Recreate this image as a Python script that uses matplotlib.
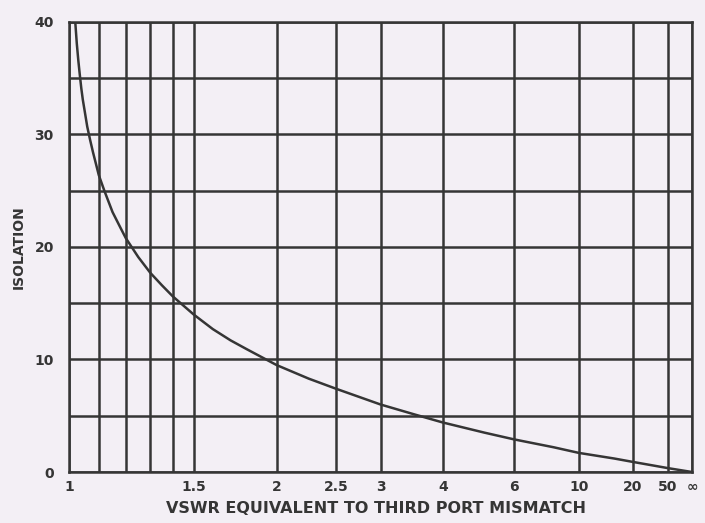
import numpy as np
import matplotlib.pyplot as plt

# VSWR tick marks along the bottom (inf = open / short)
vswr_major = [1, 1.5, 2, 2.5, 3, 4, 6, 10, 20, 50, np.inf]
vswr_labels = ['1', '1.5', '2', '2.5', '3', '4', '6', '10', '20', '50', '\u221e']
vswr_minor = [1.1, 1.2, 1.3, 1.4]

# isolation curve, dB vs VSWR
curve_vswr = [1.02, 1.025, 1.03, 1.035, 1.04, 1.045, 1.05, 1.06, 1.07, 1.08, 1.09,
              1.1, 1.12, 1.15, 1.18, 1.2, 1.25, 1.3, 1.35, 1.4, 1.5, 1.6, 1.7, 1.8,
              2.0, 2.25, 2.5, 3.0, 3.5, 4.0, 5.0, 6.0, 8.0, 10, 15, 20, 30, 50, np.inf]
curve_iso = [40.0, 38.1, 36.6, 35.3, 34.1, 33.1, 32.3, 30.7, 29.5, 28.4, 27.4,
             26.4, 25.0, 23.1, 21.7, 20.8, 19.1, 17.7, 16.6, 15.6, 14.0, 12.7, 11.7, 10.9,
             9.5, 8.3, 7.4, 6.0, 5.1, 4.4, 3.5, 2.9, 2.2, 1.7, 1.2, 0.9, 0.6, 0.35, 0.0]

y_major = [0, 10, 20, 30, 40]
y_minor = [5, 15, 25, 35]


def to_gamma(s):
    # the axis is linear in reflection coefficient
    s = np.asarray(s, dtype=float)
    g = np.ones_like(s)
    fin = np.isfinite(s)
    g[fin] = (s[fin] - 1) / (s[fin] + 1)
    return g


bg = '#f3eff5'
ink = '#353535'

fig = plt.figure(figsize=(7.05, 5.23), dpi=100, facecolor=bg)
ax = fig.add_axes([0.098, 0.0975, 0.8836, 0.8605], facecolor=bg)

ax.plot(to_gamma(curve_vswr), curve_iso, color=ink, lw=1.8, zorder=3)

ax.set_xlim(0, 1)
ax.set_ylim(0, 40)
ax.set_xticks(to_gamma(vswr_major))
ax.set_xticklabels(vswr_labels)
ax.set_xticks(to_gamma(vswr_minor), minor=True)
ax.set_yticks(y_major)
ax.set_yticks(y_minor, minor=True)

ax.grid(True, which='both', color=ink, lw=1.8)
ax.tick_params(which='both', length=0)
ax.tick_params(axis='x', pad=6, labelsize=10, labelcolor=ink)
ax.tick_params(axis='y', pad=11, labelsize=10, labelcolor=ink)
for lbl in ax.get_xticklabels() + ax.get_yticklabels():
    lbl.set_fontweight('bold')
for sp in ax.spines.values():
    sp.set_color(ink)
    sp.set_linewidth(1.8)

ax.set_xlabel('VSWR EQUIVALENT TO THIRD PORT MISMATCH', fontsize=11.5,
              fontweight='bold', color=ink)
ax.xaxis.set_label_coords(0.493, -0.064)
ax.set_ylabel('ISOLATION', fontsize=10, fontweight='bold', color=ink)
ax.yaxis.set_label_coords(-0.069, 0.5)

fig.savefig('out.png', dpi=100, facecolor=bg)
